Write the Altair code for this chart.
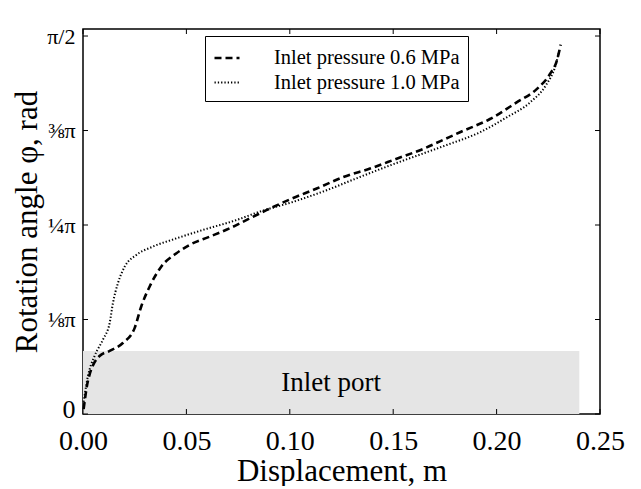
import math
import altair as alt
import pandas as pd

PI = math.pi

# ---- data ----
series_names = ["Inlet pressure 0.6 MPa", "Inlet pressure 1.0 MPa"]

x_06 = [0.0003, 0.0024, 0.008, 0.0129, 0.0194, 0.025, 0.0282, 0.0323, 0.0379,
        0.0452, 0.0516, 0.0613, 0.071, 0.0806, 0.0887, 0.1001, 0.113, 0.1259,
        0.1388, 0.1517, 0.1646, 0.1726, 0.1823, 0.1968, 0.2097, 0.2194,
        0.2258, 0.2291, 0.2310]
y_06 = [0.02, 0.138, 0.241, 0.262, 0.296, 0.358, 0.448, 0.531, 0.613,
        0.668, 0.703, 0.737, 0.772, 0.813, 0.847, 0.892, 0.937, 0.985,
        1.020, 1.061, 1.102, 1.133, 1.171, 1.226, 1.295, 1.350,
        1.413, 1.468, 1.535]

x_10 = [0.0003, 0.0024, 0.0056, 0.0097, 0.0129, 0.0145, 0.0169, 0.0202, 0.0258,
        0.0339, 0.0452, 0.058, 0.0742, 0.0855, 0.1017, 0.1178, 0.1339, 0.15,
        0.1662, 0.1759, 0.192, 0.2049, 0.2162, 0.2242, 0.2282, 0.2303]
y_10 = [0.05, 0.158, 0.241, 0.310, 0.379, 0.462, 0.544, 0.613, 0.661,
        0.696, 0.730, 0.765, 0.806, 0.841, 0.882, 0.930, 0.985, 1.038,
        1.088, 1.118, 1.171, 1.233, 1.295, 1.371, 1.440, 1.509]

x_ticks = [0.0, 0.05, 0.10, 0.15, 0.20, 0.25]
y_ticks = [0.0, PI / 8, PI / 4, 3 * PI / 8, PI / 2]
y_tick_labels = ["0", "⅛π", "¼π", "⅜π", "π/2"]

port_x = [0.0, 0.24]
port_y = [0.0, PI / 12]
port_label = "Inlet port"

# ---- tables ----
rows = []
for i, (a, b) in enumerate(zip(x_06, y_06)):
    rows.append({"x": a, "y": b, "series": series_names[0], "order": i})
for i, (a, b) in enumerate(zip(x_10, y_10)):
    rows.append({"x": a, "y": b, "series": series_names[1], "order": i})
lines_df = pd.DataFrame(rows)

band_df = pd.DataFrame({"x": [port_x[0]], "x1": [port_x[1]],
                        "y": [port_y[0]], "y1": [port_y[1]],
                        "xm": [(port_x[0] + port_x[1]) / 2],
                        "ym": [(port_y[0] + port_y[1]) / 2],
                        "label": [port_label]})
xt_df = pd.DataFrame({"x": x_ticks})
yt_df = pd.DataFrame({"y": y_ticks})

# label expression built from tick lists
expr = f"'{y_tick_labels[-1]}'"
for i in range(len(y_ticks) - 2, -1, -1):
    mid = (y_ticks[i] + y_ticks[i + 1]) / 2
    expr = f"datum.value < {mid:.4f} ? '{y_tick_labels[i]}' : ({expr})"

W, H = 517, 385
FONT = "Liberation Serif"

xs = alt.Scale(domain=[0, 0.25], nice=False, zero=False)
ys = alt.Scale(domain=[0, 1.6], nice=False, zero=False)

x_axis = alt.Axis(values=x_ticks, format=".2f", title="Displacement,  m",
                  tickSize=0, labelPadding=13, domain=False, grid=False,
                  labelFontSize=28, titleFontSize=31, titlePadding=1,
                  labelFlush=False)
y_axis = alt.Axis(values=y_ticks, labelExpr=expr, title="Rotation angle φ, rad",
                  tickSize=0, labelPadding=8, domain=False, grid=False,
                  labelFontSize={"condition": {"test": "datum.value < 0.1", "value": 26},
                                 "value": 22},
                  labelOffset={"condition": {"test": "datum.value < 0.1", "value": -5},
                               "value": 0},
                  titleFontSize=31, titleX=-56, titleY=H / 2,
                  titleAngle=270, titleAlign="center", titleBaseline="middle",
                  labelFlush=False)

X = lambda f: alt.X(f, scale=xs, axis=x_axis)
Y = lambda f: alt.Y(f, scale=ys, axis=y_axis)

band = alt.Chart(band_df).mark_rect(color="#e5e5e5").encode(
    x=X("x:Q"), x2="x1:Q", y=Y("y:Q"), y2="y1:Q",
)

band_text = alt.Chart(band_df).mark_text(font=FONT, fontSize=27, color="black").encode(
    x=alt.X("xm:Q", scale=xs), y=alt.Y("ym:Q", scale=ys), text="label:N",
)

lines = alt.Chart(lines_df).mark_line(color="black", interpolate="monotone").encode(
    x=X("x:Q"),
    y=Y("y:Q"),
    strokeDash=alt.StrokeDash(
        "series:N",
        scale=alt.Scale(domain=series_names, range=[[7, 4], [1.3, 2]]),
        legend=alt.Legend(title=None, orient="none", legendX=122, legendY=7,
                          strokeColor="black", fillColor="white", padding=8,
                          labelFont=FONT, labelFontSize=20.5, labelColor="black",
                          labelLimit=400,
                          symbolType="stroke", symbolSize=625,
                          symbolStrokeWidth=2.2, symbolStrokeColor="black",
                          labelOffset=33, rowPadding=0, cornerRadius=0),
    ),
    strokeWidth=alt.StrokeWidth(
        "series:N",
        scale=alt.Scale(domain=series_names, range=[2.6, 2.0]),
        legend=None,
    ),
    order="order:Q",
)

xt_bottom = alt.Chart(xt_df).mark_rule(color="black", strokeWidth=1).encode(
    x=X("x:Q"), y=alt.value(H), y2=alt.value(H - 5))
xt_top = alt.Chart(xt_df).mark_rule(color="black", strokeWidth=1).encode(
    x=X("x:Q"), y=alt.value(0), y2=alt.value(5))
yt_left = alt.Chart(yt_df).mark_rule(color="black", strokeWidth=1).encode(
    y=Y("y:Q"), x=alt.value(0), x2=alt.value(5))
yt_right = alt.Chart(yt_df).mark_rule(color="black", strokeWidth=1).encode(
    y=Y("y:Q"), x=alt.value(W), x2=alt.value(W - 5))

chart = alt.layer(band, band_text, lines, xt_bottom, xt_top, yt_left, yt_right).properties(
    width=W, height=H,
    autosize=alt.AutoSizeParams(type="none"),
    padding={"left": 75, "top": 21, "right": 25, "bottom": 72},
    background="white",
).configure_view(stroke="black", strokeWidth=1.5).configure_axis(
    labelFont=FONT, titleFont=FONT, labelColor="black", titleColor="black",
    titleFontWeight="normal",
)

chart.save("out.html", embed_options={"renderer": "svg", "actions": False})
